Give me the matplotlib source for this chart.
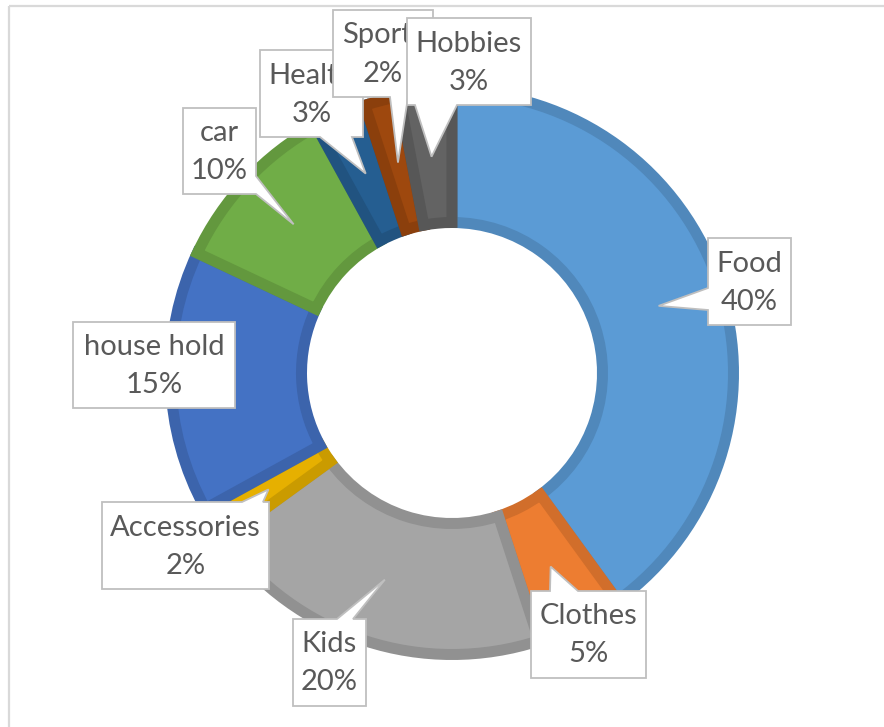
import matplotlib
matplotlib.use("Agg")
from matplotlib import pyplot as plt
from matplotlib.patches import Polygon
import numpy as np

categories = ["Food", "Clothes", "Kids", "Accessories", "house hold", "car", "Health", "Sports", "Hobbies"]
values = [40, 5, 20, 2, 15, 10, 3, 2, 3]
colors = ["#5B9BD5", "#ED7D31", "#A5A5A5", "#E6B000", "#4472C4", "#70AD47", "#255E91", "#9E480E", "#636363"]

# callout layout in pixel coords (x0, y0, x1, y1), side of the pointer, pointer base along that side
boxes = [
	((708, 238, 791, 325), "left", (288, 310)),
	((531, 591, 646, 678), "top", (550, 578)),
	((293, 619, 366, 706), "top", (337, 353)),
	((102, 502, 269, 589), "top", (242, 263)),
	((73, 322, 235, 408), None, None),
	((183, 108, 256, 194), "right", (176, 194)),
	((260, 50, 363, 137), "bottom", (320, 352)),
	((333, 10, 433, 97), "bottom", (390, 408)),
	((407, 18, 531, 105), "bottom", (415, 457)),
]

W, H = 884, 727
cx, cy = 452, 373
R = 287
ring = 142
edge_px = 11

fig = plt.figure(figsize=(W / 100, H / 100), dpi=100)
ax = fig.add_axes([0, 0, 1, 1])

def darker(c, f=0.88):
	r, g, b = matplotlib.colors.to_rgb(c)
	return (r * f, g * f, b * f)

# y axis points down, so counterclock=True draws clockwise on screen
# ring shrunk by half the edge width so the darker border stays inside the outline
wedges, _ = ax.pie(values, colors=colors, startangle=-90, counterclock=True,
	center=(cx, cy), radius=R - edge_px / 2, wedgeprops=dict(width=ring - edge_px))
for w, c in zip(wedges, colors):
	w.set_edgecolor(darker(c))
	w.set_linewidth(edge_px * 0.72)
	w.set_joinstyle("miter")
	w.set_zorder(1)

ax.set_xlim(0, W)
ax.set_ylim(H, 0)
ax.set_aspect("equal")
ax.axis("off")

# chart frame
ax.plot([9, W], [6, 6], color="#D9D9D9", lw=1.6, zorder=0, solid_capstyle="butt")
ax.plot([9, 9], [6, H], color="#D9D9D9", lw=1.6, zorder=0, solid_capstyle="butt")

total = float(sum(values))
cum = np.cumsum([0] + values)
r_tip = 0.757 * R

for i, (name, v) in enumerate(zip(categories, values)):
	(x0, y0, x1, y1), side, base = boxes[i]
	mid = (cum[i] + v / 2) / total * 2 * np.pi
	tip = (cx + r_tip * np.sin(mid), cy - r_tip * np.cos(mid))
	pts = [(x0, y0)]
	if side == "top":
		pts += [(base[0], y0), tip, (base[1], y0)]
	pts += [(x1, y0)]
	if side == "right":
		pts += [(x1, base[0]), tip, (x1, base[1])]
	pts += [(x1, y1)]
	if side == "bottom":
		pts += [(base[1], y1), tip, (base[0], y1)]
	pts += [(x0, y1)]
	if side == "left":
		pts += [(x0, base[1]), tip, (x0, base[0])]
	poly = Polygon(pts, closed=True, facecolor="white", edgecolor="#BFBFBF", lw=1.3, zorder=3 + 2 * i)
	ax.add_patch(poly)
	mx = (x0 + x1) / 2
	my = (y0 + y1) / 2
	t1 = ax.text(mx, my - 18, name, ha="center", va="center", fontsize=21, color="#595959",
		family="Lato", zorder=4 + 2 * i)
	t2 = ax.text(mx, my + 20, f"{v}%", ha="center", va="center", fontsize=21, color="#595959",
		family="Lato", zorder=4 + 2 * i)
	t1.set_clip_path(poly)
	t2.set_clip_path(poly)

fig.savefig("out.png", dpi=100)
